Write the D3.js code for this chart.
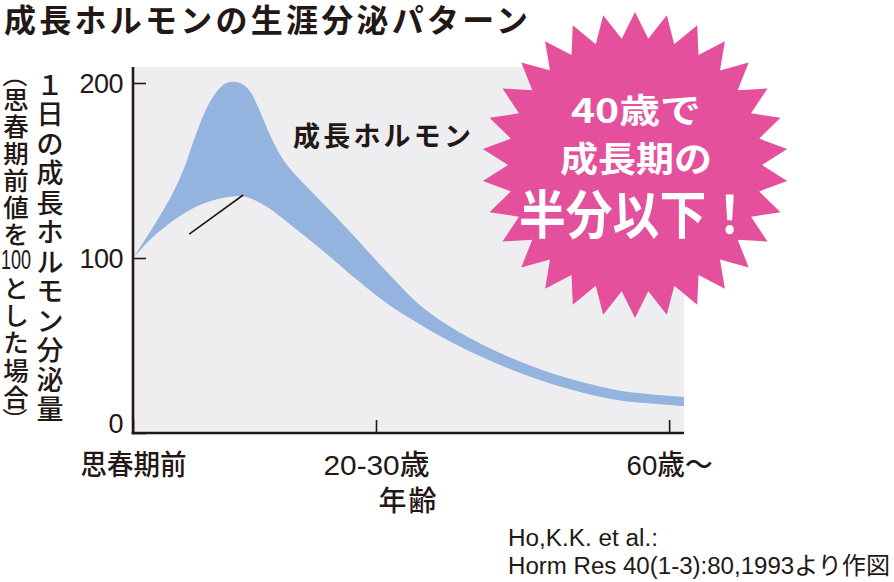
<!DOCTYPE html>
<html><head><meta charset="utf-8">
<script src="https://cdn.jsdelivr.net/npm/d3@7"></script>
<style>body{margin:0;background:#fff}</style>
</head><body>
<svg id="chart" width="894" height="582"></svg>
<script>
// ---- data ----
const upperStage  = [0, 3.1, 6.7, 9.1, 10.9, 12.7, 14.5, 16.2, 17.6, 19.4, 21.2, 23.0, 24.9, 26.7, 28.5, 32.7, 38.8, 46.1, 52.1, 59.3, 66.6, 73.9, 81.1, 88.4, 95.6, 100];
const upperValues = [100, 115, 134, 150, 166, 181, 192, 198.5, 200.6, 200, 195.5, 184, 170, 159, 151, 137, 117, 92, 73, 57.4, 45.7, 36.4, 29.4, 24.2, 21.7, 20.6];
const lowerStage  = [0, 3.1, 6.7, 10.3, 14.0, 17.6, 20.0, 22.5, 24.9, 29.8, 35.8, 40.7, 46.1, 52.1, 59.3, 66.6, 73.9, 81.1, 88.4, 95.6, 100];
const lowerValues = [100, 110.5, 120, 127.5, 132.5, 135, 135.3, 132.5, 128, 116, 100.6, 87.4, 74, 62, 49.4, 38.9, 30.2, 23.5, 18.6, 16.5, 15.4];
const xTickValues = [0, 44.1, 97.3];
const xTickLabels = ["思春期前", "20-30歳", "60歳～"];
const yTickValues = [0, 100, 200];
const leaderStage = [10.2, 20.0];
const leaderValues = [113.7, 136];
const titleText = "成長ホルモンの生涯分泌パターン";
const seriesLabel = "成長ホルモン";
const yTitleChars = ["１","日","の","成","長","ホ","ル","モ","ン","分","泌","量"];
const yNoteChars = ["思","春","期","前","値","を","100","と","し","た","場","合"];
const xTitle = "年齢";
const calloutLines = ["40歳で", "成長期の", "半分以下！"];
const sourceLines = ["Ho,K.K. et al.:", "Horm Res 40(1-3):80,1993より作図"];

// ---- drawing ----
const ink = "#231815";
const cjk = "'Noto Sans CJK JP', 'Noto Sans CJK SC', sans-serif";
const latin = "'Liberation Sans', Arial, 'Noto Sans CJK JP', sans-serif";
const svg = d3.select("#chart");

const x = d3.scaleLinear().domain([0, 100]).range([133, 684]);
const y = d3.scaleLinear().domain([0, 200]).range([433, 83]);

// plot background
svg.append("rect").attr("x", x(0)).attr("y", 67).attr("width", x(100) - x(0)).attr("height", y(0) - 67).attr("fill", "#eeeef0");

// band: upper edge forward, lower edge backward
const curve = d3.curveCatmullRom.alpha(0.5);
const upperPts = upperStage.map((s, i) => [x(s), y(upperValues[i])]);
const lowerPts = lowerStage.map((s, i) => [x(s), y(lowerValues[i])]).reverse();
const upperPath = d3.line().curve(curve)(upperPts);
const lowerPath = d3.line().curve(curve)(lowerPts);
svg.append("path")
  .attr("fill", "#95b3df")
  .attr("d", upperPath + "L" + lowerPath.slice(1) + "Z");

// leader line
svg.append("line")
  .attr("x1", x(leaderStage[0])).attr("y1", y(leaderValues[0]))
  .attr("x2", x(leaderStage[1])).attr("y2", y(leaderValues[1]))
  .attr("stroke", ink).attr("stroke-width", 1.6);

// series label
svg.append("text").attr("x", 293).attr("y", 146)
  .attr("font-family", cjk).attr("font-weight", 700).attr("font-size", 27)
  .attr("fill", ink).attr("textLength", 178).attr("lengthAdjust", "spacing")
  .text(seriesLabel);

// axes
const yAxis = d3.axisLeft(y).tickValues(yTickValues).tickSize(-13).tickSizeOuter(0).tickPadding(10).tickFormat(d3.format("d"));
const gy = svg.append("g").attr("transform", `translate(${x(0)},0)`).call(yAxis);
gy.select(".domain").remove();
gy.selectAll(".tick line").attr("stroke", ink).attr("stroke-width", 1.6);
gy.selectAll(".tick text").attr("font-family", latin).attr("font-size", 27).attr("fill", ink)
  .attr("letter-spacing", -0.5).attr("dy", d => d === 0 ? "-0.02em" : "0.36em");

const xAxis = d3.axisBottom(x).tickValues(xTickValues).tickSize(-13).tickSizeOuter(0).tickPadding(22)
  .tickFormat((d, i) => xTickLabels[i]);
const gx = svg.append("g").attr("transform", `translate(0,${y(0)})`).call(xAxis);
gx.select(".domain").remove();
gx.selectAll(".tick line").attr("stroke", ink).attr("stroke-width", 1.6);
gx.selectAll(".tick text").attr("font-family", latin).attr("font-weight", 500).attr("font-size", 28).attr("fill", ink)
  .attr("dy", "0.71em").attr("textLength", (d, i) => [106, 106, 86][i]).attr("lengthAdjust", "spacingAndGlyphs");

// axis lines
svg.append("line").attr("x1", x(0)).attr("x2", x(0)).attr("y1", 67).attr("y2", y(0) + 1.2)
  .attr("stroke", ink).attr("stroke-width", 2.6);
svg.append("line").attr("x1", x(0) - 1.3).attr("x2", x(100)).attr("y1", y(0)).attr("y2", y(0))
  .attr("stroke", ink).attr("stroke-width", 2.6);

// x title
svg.append("text").attr("x", (x(0) + x(100)) / 2).attr("y", 511).attr("text-anchor", "middle")
  .attr("font-family", cjk).attr("font-weight", 500).attr("font-size", 28).attr("fill", ink)
  .attr("letter-spacing", 2).text(xTitle);

// y title column 1
svg.append("g").selectAll("text").data(yTitleChars).join("text")
  .attr("x", 50).attr("y", (d, i) => 83 + i * 29.5)
  .attr("text-anchor", "middle").attr("dominant-baseline", "central")
  .attr("font-family", cjk).attr("font-weight", 500).attr("font-size", 27).attr("fill", ink)
  .text(d => d);

// y title column 2
const noteG = svg.append("g");
noteG.selectAll("text").data(yNoteChars).join("text")
  .attr("x", 16).attr("y", (d, i) => 97 + i * 27.1)
  .attr("text-anchor", "middle").attr("dominant-baseline", "central")
  .attr("font-family", (d) => d === "100" ? latin : cjk)
  .attr("font-weight", 500)
  .attr("font-size", d => d === "100" ? 27 : 25.5).attr("fill", ink)
  .attr("textLength", d => d === "100" ? 30 : null)
  .attr("lengthAdjust", "spacingAndGlyphs")
  .text(d => d);
[["（", 75], ["）", 420]].forEach(([c, cy]) => {
  noteG.append("text").attr("transform", `translate(16,${cy}) rotate(90)`)
    .attr("text-anchor", "middle").attr("dominant-baseline", "central")
    .attr("font-family", cjk).attr("font-size", 25).attr("fill", ink).text(c);
});

// title
svg.append("text").attr("x", 4).attr("y", 32)
  .attr("font-family", cjk).attr("font-weight", 700).attr("font-size", 32).attr("fill", ink)
  .attr("textLength", 524).attr("lengthAdjust", "spacing").text(titleText);

// starburst callout
const N = 30, R = 153, r = 127, cx = 635, cy = 165;
const pts = d3.range(N * 2).map(k => [k * Math.PI / N, k % 2 === 0 ? R : r]);
svg.append("path").attr("transform", `translate(${cx},${cy})`)
  .attr("d", d3.lineRadial().angle(d => d[0]).radius(d => d[1]).curve(d3.curveLinearClosed)(pts))
  .attr("fill", "#e4509b");
const cl = [
  {t: calloutLines[0], y: 108, fs: 34, w: 130},
  {t: calloutLines[1], y: 156, fs: 35, w: 152},
  {t: calloutLines[2], y: 211, fs: 52, w: 234}
];
svg.append("g").selectAll("text").data(cl).join("text")
  .attr("x", 636).attr("y", d => d.y).attr("text-anchor", "middle").attr("dominant-baseline", "central")
  .attr("font-family", cjk).attr("font-weight", 700).attr("font-size", d => d.fs).attr("fill", "#fff")
  .attr("textLength", d => d.w).attr("lengthAdjust", "spacingAndGlyphs")
  .text(d => d.t);

// source
svg.append("g").selectAll("text").data(sourceLines).join("text")
  .attr("x", 508).attr("y", (d, i) => 546 + i * 28)
  .attr("font-family", latin).attr("font-size", 23.5).attr("fill", ink)
  .attr("textLength", (d, i) => [150, 382][i]).attr("lengthAdjust", "spacingAndGlyphs")
  .text(d => d);
</script>
</body></html>
